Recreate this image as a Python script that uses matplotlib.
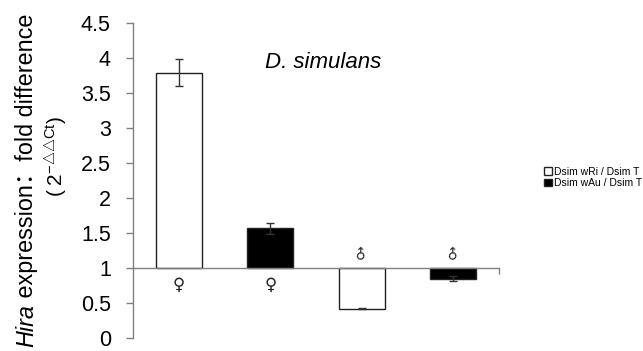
import numpy as np
import matplotlib
matplotlib.use("Agg")
from matplotlib import pyplot as plt
from matplotlib.text import Annotation

plt.rcParams['font.family'] = ['Liberation Sans', 'Noto Sans CJK SC', 'DejaVu Sans']
plt.rcParams['mathtext.fontset'] = 'custom'
plt.rcParams['mathtext.rm'] = 'Liberation Sans'
plt.rcParams['mathtext.it'] = 'Liberation Sans:italic'

# data
groups = ['Dsim wRi / Dsim T', 'Dsim wAu / Dsim T', 'Dsim wRi / Dsim T', 'Dsim wAu / Dsim T']
values = [3.79, 1.57, 0.42, 0.85]
errors = [0.19, 0.08, 0.01, 0.04]
sexes = ['♀', '♀', '♂', '♂']
fills = ['white', 'black', 'white', 'black']
yticks = [0, 0.5, 1, 1.5, 2, 2.5, 3, 3.5, 4, 4.5]
ytick_labels = ['0', '0.5', '1', '1.5', '2', '2.5', '3', '3.5', '4', '4.5']
baseline = 1

fig = plt.figure(figsize=(6.43, 3.51), dpi=100)
ax = fig.add_axes([0.2068, 0.037, 0.776 - 0.2068, 0.8975])

x = np.arange(len(values)) + 0.5
heights = [v - baseline for v in values]
bars = ax.bar(x, heights, bottom=baseline, width=0.5, color=fills,
              edgecolor='#222222', linewidth=1.0, zorder=2)
ax.errorbar(x, values, yerr=errors, fmt='none', ecolor='#333333',
            elinewidth=1.0, capsize=3, capthick=1.0, zorder=3)

# sex symbols just off the baseline
for xi, v, s in zip(x, values, sexes):
    if v > baseline:
        ax.text(xi, baseline - 0.24, s, ha='center', va='center',
                fontsize=12, family='DejaVu Sans', color='#222222')
    else:
        ax.text(xi, baseline + 0.21, s, ha='center', va='center',
                fontsize=10, family='DejaVu Sans', color='#222222', rotation=45)

ax.text(2.08, 3.93, 'D. simulans', ha='center', va='center', fontsize=16,
        style='italic')

ax.set_xlim(0, 4)
ax.set_ylim(0, 4.5)
ax.set_yticks(yticks)
ax.set_yticklabels(ytick_labels)
ax.set_xticks([4])
ax.set_xticklabels([])
ax.tick_params(axis='y', direction='out', length=5, width=1, color='#808080',
               labelsize=15.5, pad=11)
ax.tick_params(axis='x', direction='out', length=4, width=1, color='#808080')

for side in ['top', 'right']:
    ax.spines[side].set_visible(False)
ax.spines['bottom'].set_position(('data', baseline))
ax.spines['left'].set_bounds(0, 4.5)
for side in ['left', 'bottom']:
    ax.spines[side].set_color('#808080')
    ax.spines[side].set_linewidth(1.0)

# y label, line 1: italic gene name then the rest, stacked upward
t1 = fig.text(0.041, 0.012, 'Hira', rotation=90, ha='center', va='bottom',
              fontsize=16.8, style='italic')
fig.add_artist(Annotation(' expression：fold difference', xy=(0.5, 1.0),
                          xycoords=t1, rotation=90, ha='center', va='bottom',
                          fontsize=16.8))

# y label, line 2
fig.text(0.088, 0.553, r'$(\;2^{-{\bigtriangleup}{\bigtriangleup}\mathrm{Ct}})$',
         rotation=90, ha='center', va='center', fontsize=15)

fig.legend([bars[0], bars[1]], groups[:2], loc='center left',
           bbox_to_anchor=(0.838, 0.494), frameon=False, fontsize=7.5,
           handlelength=0.8, handleheight=0.8, handletextpad=0.2,
           labelspacing=0.1, borderpad=0)

fig.savefig('out.png', dpi=100)
